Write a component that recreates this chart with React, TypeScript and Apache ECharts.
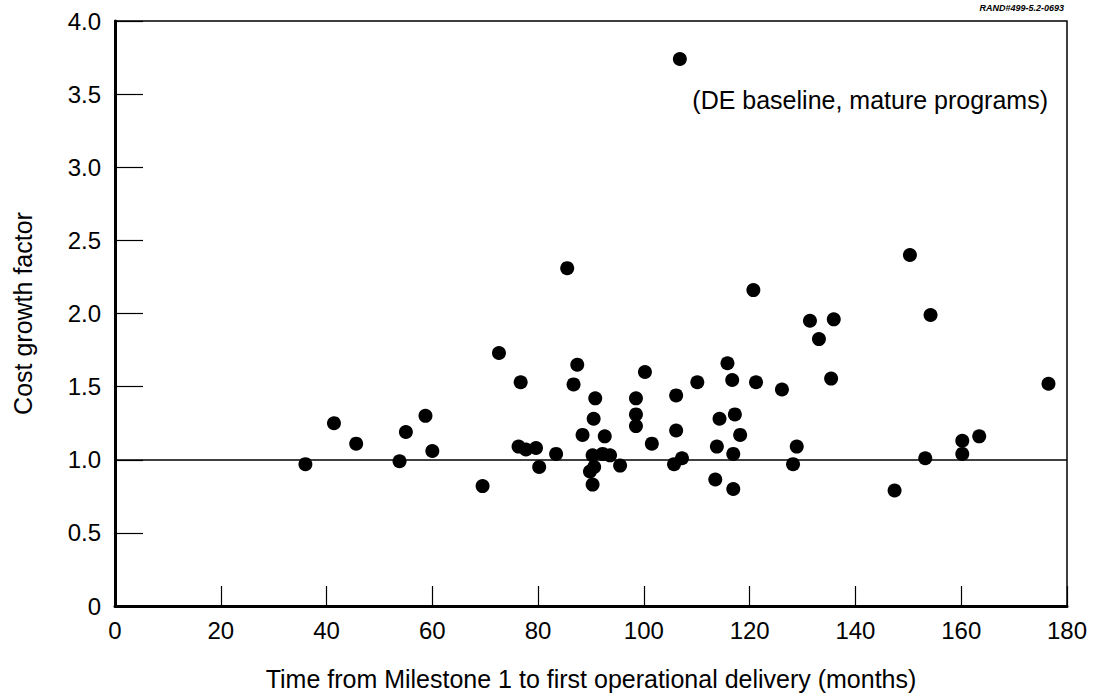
import React, { useEffect, useRef } from "react";
import * as echarts from "echarts";

const months: number[] = [
  36.0, 41.4, 45.6, 53.8, 55.0, 58.7, 60.0, 69.5, 72.6, 76.7, 76.3, 77.7, 79.6, 80.2, 83.4,
  85.5, 86.7, 87.4, 88.4, 90.5, 90.8, 92.6, 90.3, 92.2, 93.6, 90.6, 89.8, 90.3, 95.5, 98.5,
  98.5, 98.5, 100.2, 101.5, 106.1, 106.1, 105.7, 107.2, 106.8, 110.1, 114.3, 113.8, 113.5,
  115.8, 116.7, 117.2, 118.2, 116.9, 116.9, 120.7, 121.2, 126.1, 128.9, 128.2, 131.4, 133.1,
  135.9, 135.4, 147.4, 150.3, 153.2, 154.2, 160.2, 160.2, 163.4, 176.5,
];
const growth: number[] = [
  0.97, 1.25, 1.11, 0.99, 1.19, 1.3, 1.06, 0.82, 1.73, 1.53, 1.09, 1.07, 1.08, 0.95, 1.04,
  2.31, 1.515, 1.65, 1.17, 1.28, 1.42, 1.16, 1.03, 1.04, 1.03, 0.95, 0.92, 0.83, 0.96, 1.42,
  1.31, 1.23, 1.6, 1.11, 1.44, 1.2, 0.97, 1.01, 3.74, 1.53, 1.28, 1.09, 0.865,
  1.66, 1.545, 1.31, 1.17, 1.04, 0.8, 2.16, 1.53, 1.48, 1.09, 0.97, 1.95, 1.825,
  1.96, 1.555, 0.79, 2.4, 1.01, 1.99, 1.13, 1.04, 1.16, 1.52,
];
const baseline = 1.0;
const annotation = "(DE baseline, mature programs)";
const figureId = "RAND#499-5.2-0693";
const xTitle = "Time from Milestone 1 to first operational delivery (months)";
const yTitle = "Cost growth factor";

const FONT = "'Liberation Sans', Arial, Helvetica, sans-serif";

export default function App() {
  const ref = useRef<HTMLDivElement>(null);
  useEffect(() => {
    if (!ref.current) return;
    const chart = echarts.init(ref.current, undefined, { renderer: "svg" });
    const data = months.map((m, i) => [m, growth[i]]);
    chart.setOption({
      animation: false,
      backgroundColor: "#fff",
      textStyle: { fontFamily: FONT, color: "#000" },
      grid: {
        left: 115,
        right: 33,
        top: 21,
        bottom: 87,
        show: true,
        borderColor: "#000",
        borderWidth: 1.5,
      },
      xAxis: {
        type: "value",
        min: 0,
        max: 180,
        interval: 20,
        name: xTitle,
        nameLocation: "middle",
        nameGap: 60,
        nameTextStyle: { fontSize: 25, color: "#000", fontFamily: FONT },
        axisLine: { show: true, lineStyle: { color: "#000", width: 3 } },
        axisTick: { show: true, inside: true, length: 20, lineStyle: { color: "#000", width: 1.2 } },
        axisLabel: { fontSize: 24, color: "#000", margin: 12, fontFamily: FONT },
        splitLine: { show: false },
      },
      yAxis: {
        type: "value",
        min: 0,
        max: 4,
        interval: 0.5,
        name: yTitle,
        nameLocation: "middle",
        nameGap: 80,
        nameRotate: 90,
        nameTextStyle: { fontSize: 25, color: "#000", fontFamily: FONT },
        axisLine: { show: true, lineStyle: { color: "#000", width: 3 } },
        axisTick: { show: true, inside: true, length: 28, lineStyle: { color: "#000", width: 1.2 } },
        axisLabel: {
          fontSize: 24,
          color: "#000",
          margin: 14,
          fontFamily: FONT,
          formatter: (v: number) => (v === 0 ? "0" : v.toFixed(1)),
        },
        splitLine: { show: false },
      },
      graphic: [
        {
          type: "text",
          right: 52,
          top: 87,
          style: { text: annotation, font: `25px ${FONT}`, fill: "#000" },
        },
        {
          type: "text",
          right: 36,
          top: 3,
          style: { text: figureId, font: `italic bold 9px ${FONT}`, fill: "#000" },
        },
      ],
      series: [
        {
          type: "scatter",
          data,
          symbol: "circle",
          symbolSize: 14,
          itemStyle: { color: "#000", opacity: 1 },
          markLine: {
            silent: true,
            symbol: "none",
            label: { show: false },
            lineStyle: { color: "#000", width: 1.5, type: "solid", opacity: 1 },
            data: [{ yAxis: baseline }],
          },
        },
      ],
    });
    return () => chart.dispose();
  }, []);
  return (
    <div
      ref={ref}
      style={{ position: "fixed", left: 0, top: 0, width: 1100, height: 696 }}
    />
  );
}
